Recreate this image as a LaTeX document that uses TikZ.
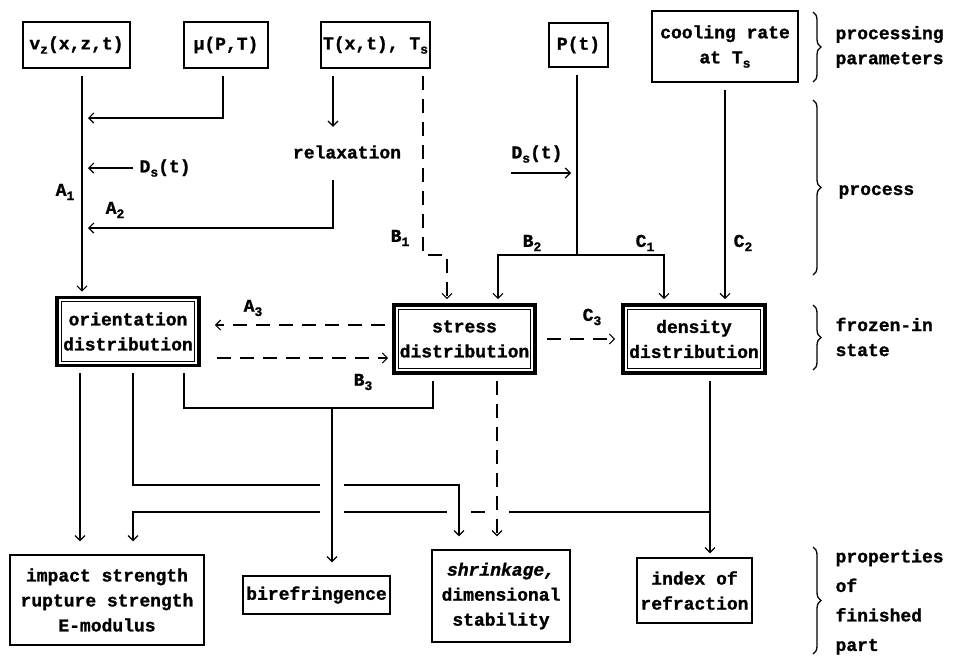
\documentclass[tikz,border=0pt]{standalone}
\usepackage{fontspec}
\setmainfont{Liberation Mono}[BoldFeatures={FakeBold=1.2},BoldItalicFeatures={FakeBold=1.2}]
\usetikzlibrary{arrows.meta,decorations.pathreplacing}
\newcommand{\lo}[1]{\raisebox{-0.45ex}{\fontsize{13}{13}\selectfont #1}}
\tikzset{
  box/.style={draw,line width=1.3pt,inner sep=0pt,align=center},
  statebox/.style={draw,line width=3.6pt,inner sep=0pt,align=center,
    path picture={\draw[line width=0.8pt] ([shift={(4.2pt,4.2pt)}]path picture bounding box.south west)
      rectangle ([shift={(-4.2pt,-4.2pt)}]path picture bounding box.north east);}},
  outgap/.style={shorten <=7pt},
  ingap/.style={shorten >=4pt},
  outgapb/.style={shorten <=6pt},
  intob/.style={shorten >=13pt},
  dsh/.style={dash pattern=on 14pt off 9pt},
  halo/.style={preaction={draw,white,solid,-,line width=24pt}},
  brc/.style={decorate,decoration={brace,amplitude=8pt},line width=1.3pt},
  side/.style={anchor=west,align=left,inner sep=0pt},
}
\begin{document}
\begin{tikzpicture}[x=1pt,y=-1pt,line width=1.2pt,>={Straight Barb[length=5pt,width=10pt]},
  every node/.style={font=\fontsize{18}{25}\selectfont\bfseries}]
\useasboundingbox (0,0) rectangle (961,656);

% processing parameters
\node[box,minimum width=107pt,minimum height=46pt] (vz) at (76.5,45) {v\lo{z}(x,z,t)};
\node[box,minimum width=84pt,minimum height=46pt] (mu) at (226,45) {μ(P,T)};
\node[box,minimum width=109pt,minimum height=46pt] (temp) at (375.5,45) {T(x,t), T\lo{s}};
\node[box,minimum width=59pt,minimum height=44pt] (pres) at (578.5,45) {P(t)};
\node[box,minimum width=146pt,minimum height=71pt] (cool) at (725,46.5) {cooling rate\\at T\lo{s}};

% frozen-in state
\node[statebox,minimum width=142pt,minimum height=68pt] (orient) at (128,331.5) {orientation\\distribution};
\node[statebox,minimum width=141pt,minimum height=68pt] (stress) at (464.5,339) {stress\\distribution};
\node[statebox,minimum width=142pt,minimum height=68pt] (dens) at (694,339) {density\\distribution};

% properties of the part
\node[box,minimum width=194pt,minimum height=90pt] (impact) at (107,600) {impact strength\\rupture strength\\E-modulus};
\node[box,minimum width=147pt,minimum height=38pt] (biref) at (316.5,595) {birefringence};
\node[box,minimum width=138pt,minimum height=92pt] (shrink) at (501,596) {{\itshape shrinkage,}\\dimensional\\stability};
\node[box,minimum width=115pt,minimum height=65pt] (index) at (694.5,590.5) {index of\\refraction};

% process
\node[inner xsep=0pt,inner ysep=14pt] (relax) at (347,152) {relaxation};
\node[inner sep=6pt,anchor=west] (dsa) at (133,168) {D\lo{s}(t)};
\node[inner sep=0pt] (dsb) at (537,154) {D\lo{s}(t)};
\node (a1) at (65,192) {A\lo{1}};
\node (a2) at (115,210) {A\lo{2}};
\node (b1) at (400,238) {B\lo{1}};
\node (b2) at (532,243) {B\lo{2}};
\node (c1) at (645,243) {C\lo{1}};
\node (c2) at (743,243) {C\lo{2}};
\node (a3) at (253,308) {A\lo{3}};
\node (b3) at (363,382) {B\lo{3}};
\node (c3) at (592,317) {C\lo{3}};

\coordinate (mujoin) at (88,118);
\coordinate (relaxjoin) at (88,228);
\coordinate (b1turn) at (423,255);
\coordinate (pjoin) at (577,255);
\coordinate (dsbtip) at (571,173);
\coordinate (orjoin) at (300,485);
\coordinate (densjoin) at (710,512);
\coordinate (brjoin) at (332,408);

\draw[->,outgap,ingap] ([xshift=5.5pt]vz.south) -- ([xshift=5.5pt]vz.south |- orient.north);
\draw[->,outgap] ([xshift=-3pt]mu.south) |- (mujoin);
\draw[->] (dsa.west) -- (dsa.west -| mujoin);
\draw[->,outgap,ingap] ([xshift=-42.5pt]temp.south) -- ([xshift=-42.5pt]temp.south |- relax.north);
\draw[->,outgap] ([xshift=-14pt]relax.south) |- (relaxjoin);
\draw[->,dsh,outgap,ingap] ([xshift=47.5pt]temp.south) -- (b1turn) -| ([xshift=-17.5pt]stress.north);
\draw[outgap] (pres.south -| pjoin) -- (pjoin);
\draw[->,ingap] (pjoin) -| ([xshift=33.5pt]stress.north);
\draw[->,ingap] (pjoin) -| ([xshift=-30pt]dens.north);
\draw[->] (dsb.west |- dsbtip) -- (dsbtip);
\draw[->,outgap,ingap] (cool.south) -- (cool.south |- dens.north);

% between the frozen-in states
\draw[->,dsh,shorten <=7pt,shorten >=14pt] ([yshift=14pt]stress.west) -- ([yshift=14pt]stress.west -| orient.east);
\draw[->,dsh,shorten <=16pt,ingap] ([yshift=-19pt]stress.west -| orient.east) -- ([yshift=-19pt]stress.west);
\draw[->,dsh,shorten <=10pt,shorten >=6pt] (stress.east) -- (dens.west);

% towards the properties
\draw[->,intob] (densjoin) -| ([xshift=26pt]impact.north);
\draw[->,outgapb,ingap] ([xshift=16pt]dens.south) -- ([xshift=16pt]dens.south |- index.north);
\draw[->,outgapb,intob] ([xshift=-48pt]orient.south) -- ([xshift=-48pt]orient.south |- impact.north);
\draw[->,outgapb,intob,halo] ([xshift=5pt]orient.south) |- (orjoin) -| ([xshift=-42pt]shrink.north);
\draw[->,dsh,outgapb,intob,halo] ([xshift=32.5pt]stress.south) -- ([xshift=32.5pt]stress.south |- shrink.north);
\draw[->,intob,halo] (brjoin) -- (brjoin |- biref.north);
\draw[outgapb,shorten >=6pt] ([xshift=56pt]orient.south) |- (brjoin) -| ([xshift=-31.5pt]stress.south);

% levels
\draw[brc] (813,12) -- (813,82);
\draw[brc] (813,100) -- (813,275);
\draw[brc] (813,305) -- (813,370);
\draw[brc] (813,547) -- (813,654);
\node[side] (ppar) at (835,47) {processing\\parameters};
\node[side] (proc) at (838,192) {process};
\node[side] (froz) at (835,337) {frozen-in\\state};
\node[side,font=\fontsize{18}{29.5}\selectfont\bfseries] (prop) at (835,602) {properties\\of\\finished\\part};
\end{tikzpicture}
\end{document}
